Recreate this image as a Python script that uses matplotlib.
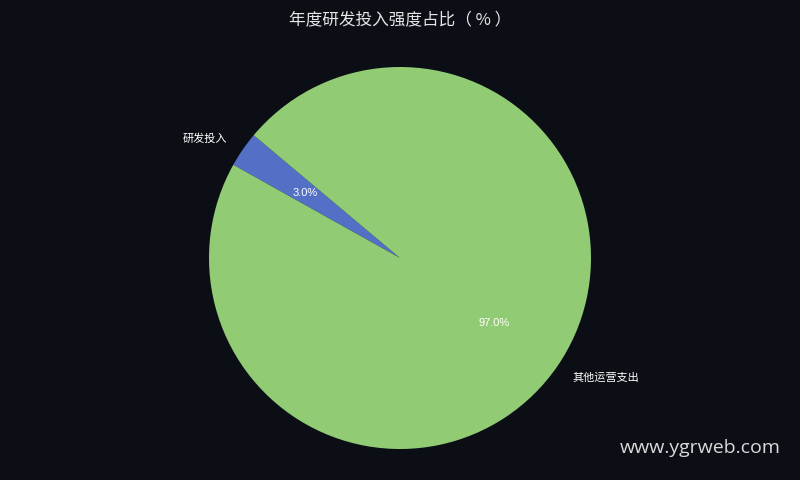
import matplotlib.pyplot as plt

plt.rcParams['font.family'] = ['Noto Sans CJK SC', 'DejaVu Sans']

labels = ['研发投入', '其他运营支出']
values = [3.0, 97.0]
colors = ['#5470c6', '#91cc75']

bg = '#0b0e15'
fig = plt.figure(figsize=(8, 4.8), dpi=100, facecolor=bg)
ax = fig.add_axes([209 / 800, 31 / 480, 382 / 800, 382 / 480])
ax.set_facecolor(bg)

wedges, texts, autotexts = ax.pie(
    values, labels=labels, colors=colors, startangle=140,
    autopct='%1.1f%%', pctdistance=0.6, labeldistance=1.1,
    wedgeprops=dict(linewidth=0),
    textprops=dict(color='#ffffff', fontsize=8))
for t in autotexts:
    t.set_color('#ffffff')
    t.set_fontsize(8)
    t.set_family(['Liberation Sans', 'DejaVu Sans'])
ax.set_xlim(-1, 1)
ax.set_ylim(-1, 1)
ax.set_aspect('equal')
ax.axis('off')

fig.text(0.5, 1 - 20 / 480, '年度研发投入强度占比（ % ）', ha='center', va='center',
         color='#e6e6e6', fontsize=12)
fig.text(781 / 800, 1 - 448 / 480, 'www.ygrweb.com', ha='right', va='center',
         color='#d9d9d9', fontsize=14, family=['Open Sans', 'DejaVu Sans'])

fig.savefig('out.png', dpi=100, facecolor=bg)
